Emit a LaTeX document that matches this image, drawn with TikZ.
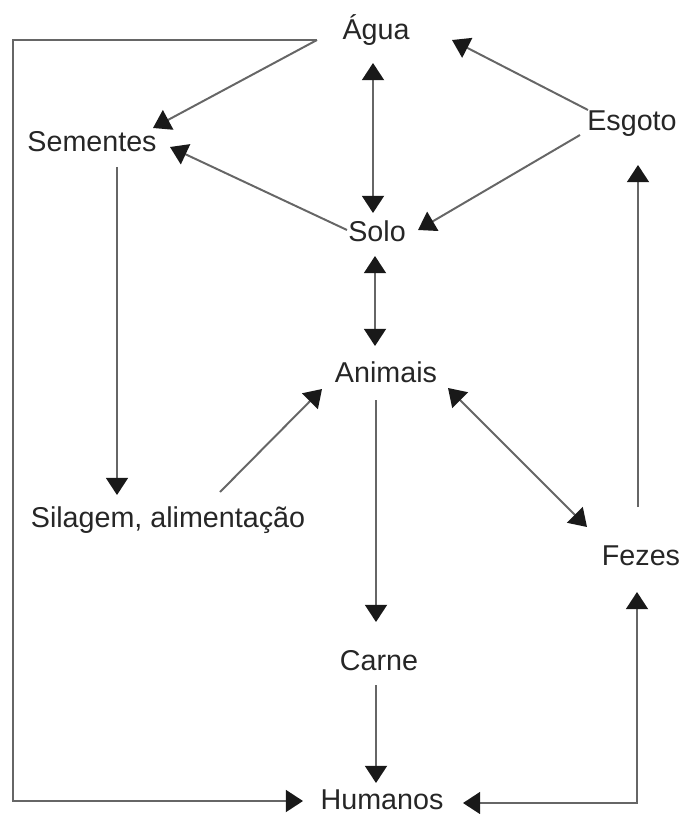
\documentclass[tikz,border=0pt]{standalone}
\usepackage{fontspec}
\setmainfont{Liberation Sans}
\usepackage{tikz}
\usetikzlibrary{calc, arrows.meta}
\tikzstyle{arrow} = [line width=1.4pt, draw=black!60, >={Triangle[length=4.3mm,width=5.5mm,color=black!90]}]
\tikzstyle{termo} = [anchor=base, inner sep=0pt, text=black!85, font=\fontsize{20.4}{24}\selectfont]

\begin{document}
\begin{tikzpicture}[x=0.025cm, y=-0.025cm]
        \useasboundingbox (0,0) rectangle (685,814);
        % termos do ciclo
        \node[termo] (agua) at (376,40) {Água};
        \node[termo] (sementes) at (92,151) {Sementes};
        \node[termo] (esgoto) at (632,131) {Esgoto};
        \node[termo] (solo) at (377,241) {Solo};
        \node[termo] (animais) at (386,382) {Animais};
        \node[termo] (silagem) at (168,527) {Silagem, alimentação};
        \node[termo] (fezes) at (641,565) {Fezes};
        \node[termo] (carne) at (379,670) {Carne};
        \node[termo] (humanos) at (382,809) {Humanos};
        % ligacoes
        \draw[arrow,->] ($(agua.base)+(-59,0)$) -- ($(sementes.base)+(61,-23)$);
        \draw[arrow,->] ($(agua.base)+(-59,0)$) -- ++(-304,0) |- ($(humanos.base)+(-79,-8)$);
        \draw[arrow,->] ($(esgoto.base)+(-44,-21)$) -- ($(agua.base)+(76,0)$);
        \draw[arrow,->] ($(esgoto.base)+(-52,4)$) -- ($(solo.base)+(41,-11)$);
        \draw[arrow,->] ($(solo.base)+(-30,-11)$) -- ($(sementes.base)+(78,-4)$);
        \draw[arrow,<->] ($(agua.base)+(-3,23)$) -- ($(solo.base)+(-4,-28)$);
        \draw[arrow,<->] ($(solo.base)+(-2,15)$) -- ($(animais.base)+(-11,-36)$);
        \draw[arrow,->] ($(sementes.base)+(25,16)$) -- ($(silagem.base)+(-51,-32)$);
        \draw[arrow,->] ($(silagem.base)+(52,-35)$) -- ($(animais.base)+(-64,7)$);
        \draw[arrow,<->] ($(animais.base)+(62,6)$) -- ($(fezes.base)+(-54,-38)$);
        \draw[arrow,->] ($(fezes.base)+(-3,-58)$) -- ($(esgoto.base)+(6,34)$);
        \draw[arrow,->] ($(animais.base)+(-10,18)$) -- ($(carne.base)+(-3,-48)$);
        \draw[arrow,->] ($(carne.base)+(-3,15)$) -- ($(humanos.base)+(-6,-26)$);
        \draw[arrow,<->] ($(humanos.base)+(81,-6)$) -| ($(fezes.base)+(-4,27)$);
    \end{tikzpicture}
\end{document}
